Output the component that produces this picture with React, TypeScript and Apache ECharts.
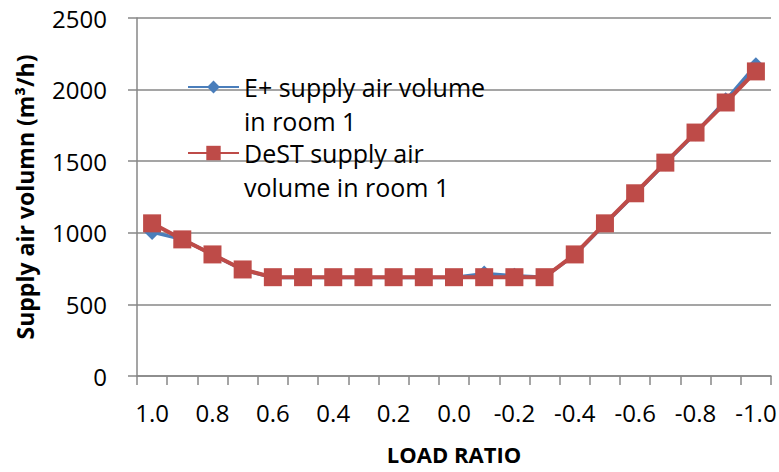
import React, { useEffect, useRef } from "react";
import * as echarts from "echarts";

// Load ratio categories, from full heating (1.0) to full cooling (-1.0)
const loadRatios = [
  "1.0", "0.9", "0.8", "0.7", "0.6", "0.5", "0.4", "0.3", "0.2", "0.1", "0.0",
  "-0.1", "-0.2", "-0.3", "-0.4", "-0.5", "-0.6", "-0.7", "-0.8", "-0.9", "-1.0",
];

// Supply air volume in room 1 (m3/h)
const ePlusVolume = [
  1005, 955, 848, 742, 688, 688, 688, 688, 688, 688, 688,
  715, 700, 690, 846, 1062, 1272, 1485, 1695, 1925, 2170,
];
const destVolume = [
  1066, 954, 849, 744, 690, 690, 690, 690, 690, 690, 690,
  690, 690, 690, 849, 1066, 1276, 1490, 1700, 1910, 2127,
];

const yTicks = { min: 0, max: 2500, interval: 500 };

const ePlusName = "E+ supply air volume\nin room 1";
const destName = "DeST supply air\nvolume in room 1";

const FONT = "'Open Sans', sans-serif";
const BLUE = "#4A7EBB";
const RED = "#BE4B48";
const GRID = "#878787";

export default function App() {
  const ref = useRef<HTMLDivElement>(null);

  useEffect(() => {
    if (!ref.current) return;
    const chart = echarts.init(ref.current, undefined, { renderer: "svg" });

    // A blank leading line keeps the first text line level with the legend icon
    const legendBase = {
      left: 187,
      orient: "vertical",
      padding: 0,
      itemWidth: 51,
      selectedMode: false,
      formatter: (name: string) => " \n" + name,
      textStyle: { fontFamily: FONT, fontSize: 25, color: "#000", lineHeight: 34 },
    };

    chart.setOption({
      animation: false,
      backgroundColor: "#fff",
      textStyle: { fontFamily: FONT },
      grid: {
        left: 137,
        right: 8,
        top: 18,
        bottom: 96,
        containLabel: false,
        outerBoundsMode: "none",
      },
      legend: [
        { ...legendBase, data: [ePlusName], top: 87 - 51, itemHeight: 16 },
        { ...legendBase, data: [destName], top: 153 - 51, itemHeight: 18 },
      ],
      xAxis: {
        type: "category",
        data: loadRatios,
        boundaryGap: true,
        name: "LOAD RATIO",
        nameLocation: "middle",
        nameGap: 67,
        nameTextStyle: { fontFamily: FONT, fontSize: 22, fontWeight: "bold", color: "#000" },
        axisLine: { lineStyle: { color: GRID, width: 1.5 } },
        axisTick: { show: true, length: 9, interval: 0, lineStyle: { color: GRID, width: 1.5 } },
        axisLabel: { interval: 1, fontSize: 24, color: "#000", margin: 24, fontFamily: FONT },
        splitLine: { show: false },
      },
      yAxis: {
        type: "value",
        min: yTicks.min,
        max: yTicks.max,
        interval: yTicks.interval,
        name: "Supply air volumn (m³/h)",
        nameLocation: "middle",
        nameGap: 101,
        nameTextStyle: { fontFamily: FONT, fontSize: 23, fontWeight: "bold", color: "#000" },
        axisLine: { show: true, lineStyle: { color: GRID, width: 1.5 } },
        axisTick: { show: true, length: 9, lineStyle: { color: GRID, width: 1.5 } },
        axisLabel: {
          fontSize: 24,
          color: "#000",
          margin: 30,
          fontFamily: FONT,
          formatter: (v: number) => String(v),
        },
        splitLine: { show: true, lineStyle: { color: GRID, width: 1.5 } },
      },
      series: [
        {
          name: ePlusName,
          type: "line",
          data: ePlusVolume,
          symbol: "diamond",
          symbolSize: 16,
          itemStyle: { color: BLUE },
          lineStyle: { color: BLUE, width: 3.5 },
          z: 2,
        },
        {
          name: destName,
          type: "line",
          data: destVolume,
          symbol: "rect",
          symbolSize: 18,
          itemStyle: { color: RED },
          lineStyle: { color: RED, width: 4 },
          z: 3,
        },
      ],
    });

    return () => chart.dispose();
  }, []);

  return (
    <div
      ref={ref}
      style={{ position: "fixed", left: 0, top: 0, width: 779, height: 472 }}
    />
  );
}
